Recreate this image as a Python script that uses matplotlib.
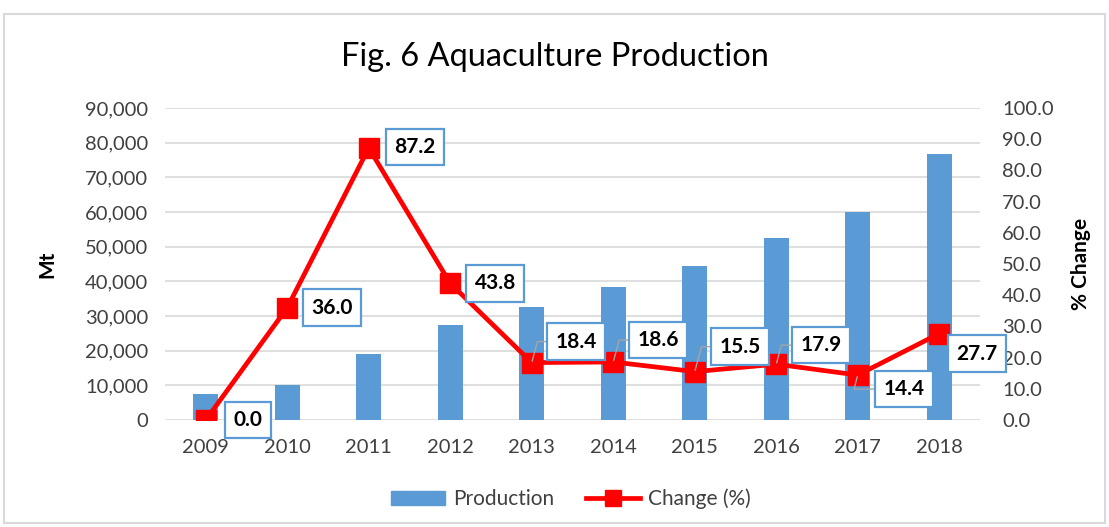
import matplotlib.pyplot as plt
import matplotlib.patches as mpatches
from matplotlib.lines import Line2D
from matplotlib.ticker import FuncFormatter

# данные
years = ['2009', '2010', '2011', '2012', '2013', '2014', '2015', '2016', '2017', '2018']
production = [7500, 10200, 19100, 27500, 32500, 38500, 44500, 52500, 60000, 76700]
change = [0.0, 36.0, 87.2, 43.8, 18.4, 18.6, 15.5, 17.9, 14.4, 27.7]

# смещения подписей (в пикселях) и есть ли выноска
label_offsets = [(42, 0), (45, 0), (46, 1), (45, 0), (44, 21), (45, 22), (45, 25), (45, 19), (46, -14), (38, -20)]
leaders = [False, False, False, False, True, True, True, True, True, False]

plt.rcParams['font.family'] = ['Lato', 'DejaVu Sans']

blue = '#5B9BD5'
red = '#FF0000'

fig = plt.figure(figsize=(11.09, 5.27), dpi=100)
ax = fig.add_axes([165 / 1109, 1 - 420 / 527, 815 / 1109, 312 / 527])
ax2 = ax.twinx()

x = list(range(len(years)))
ax.bar(x, production, width=0.31, color=blue, zorder=2)
ax.set_ylim(0, 90000)
ax.set_yticks(range(0, 90001, 10000))
ax.yaxis.set_major_formatter(FuncFormatter(lambda v, p: f'{int(v):,}'))
ax.set_xlim(-0.5, len(years) - 0.5)
ax.set_xticks(x)
ax.set_xticklabels(years)
ax.grid(axis='y', color='#D9D9D9', lw=1.2, zorder=0)
ax.set_axisbelow(True)
for s in ax.spines.values():
    s.set_visible(False)
for s in ax2.spines.values():
    s.set_visible(False)
ax.tick_params(axis='y', length=0, labelsize=14.5, colors='#404040', pad=12)
ax.tick_params(axis='x', length=0, labelsize=14.5, colors='#404040', pad=14)
ax.set_ylabel('Mt', fontsize=15, fontweight='bold', labelpad=20)

ax2.plot(x, change, color=red, lw=3.4, marker='s', markersize=15, zorder=3)
ax2.set_ylim(0, 100)
ax2.set_yticks(range(0, 101, 10))
ax2.yaxis.set_major_formatter(FuncFormatter(lambda v, p: f'{v:.1f}'))
ax2.tick_params(length=0, labelsize=14.5, colors='#404040', pad=16)
ax2.set_ylabel('% Change', fontsize=15, fontweight='bold', labelpad=12)

for i, v in enumerate(change):
    dx, dy = label_offsets[i]
    if leaders[i]:
        # серые выноски как в Excel
        arrow = dict(arrowstyle='-', color='#A5A5A5', lw=1.0, shrinkA=0, shrinkB=1,
                     connectionstyle='angle,angleA=0,angleB=75,rad=0')
    else:
        arrow = None
    ax2.annotate(f'{v:.1f}', xy=(i, v), xytext=(dx, dy), textcoords='offset pixels',
                 ha='center', va='center', fontsize=15, fontweight='bold', color='black',
                 bbox=dict(boxstyle='square,pad=0.4', fc='white', ec=blue, lw=1.6),
                 arrowprops=arrow, zorder=5)

fig.suptitle('Fig. 6 Aquaculture Production', y=1 - 57 / 527, va='center', fontsize=23.5, color='black')

handles = [mpatches.Patch(color=blue, label='Production'),
           Line2D([0], [0], color=red, lw=3.4, marker='s', markersize=12, label='Change (%)')]
fig.legend(handles=handles, loc='center', bbox_to_anchor=(0.515, 1 - 499 / 527), ncol=2,
           frameon=False, fontsize=15, handlelength=2.6, handletextpad=0.4, columnspacing=1.5,
           labelcolor='#404040')

# рамка вокруг диаграммы
fig.patches.append(mpatches.Rectangle((4 / 1109, 4 / 527), 1 - 8 / 1109, 1 - 18 / 527,
                                      transform=fig.transFigure, fill=False, ec='#D9D9D9', lw=1.5))

fig.savefig('out.png', dpi=100)
